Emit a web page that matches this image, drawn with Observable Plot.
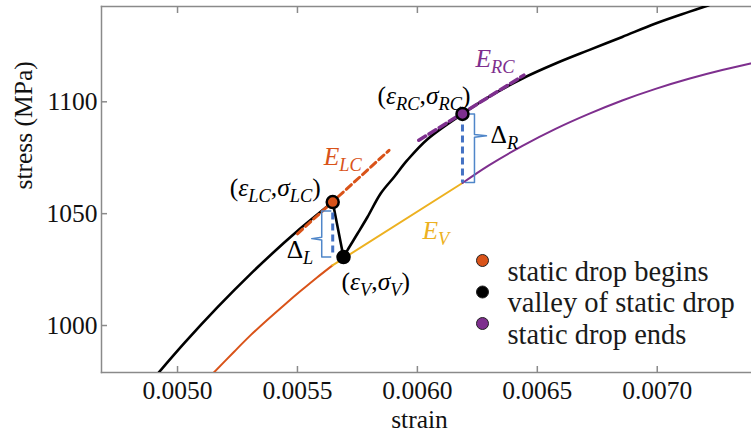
<!DOCTYPE html>
<html><head><meta charset="utf-8">
<script src="https://cdn.jsdelivr.net/npm/d3@7"></script>
<script src="https://cdn.jsdelivr.net/npm/@observablehq/plot@0.6"></script>
<style>
html,body{margin:0;padding:0;background:#fff;font-family:"Liberation Serif",serif;}
#chart svg{display:block;}
</style>
</head><body><div id="chart"></div>
<script>
// ---- data ----
const blackStrain = [0.004917, 0.005028, 0.005167, 0.005305, 0.005444, 0.005500, 0.005647, 0.005692, 0.005708, 0.005750, 0.005792, 0.005847, 0.005903, 0.005958, 0.006042, 0.006188, 0.006298, 0.006438, 0.006576, 0.006715, 0.006854, 0.006993, 0.007132, 0.007215];
const blackStress = [978.4, 992.1, 1008.2, 1023.1, 1037.0, 1042.3, 1055.2, 1030.6, 1033.6, 1041.0, 1048.5, 1059.0, 1066.4, 1073.9, 1083.3, 1094.6, 1102.2, 1110.4, 1117.1, 1123.1, 1129.0, 1135.0, 1140.2, 1143.2];

const beginStrain = [0.005146, 0.005236, 0.005305, 0.005375, 0.005444, 0.005514, 0.005583, 0.005646];
const beginStress = [978.4, 988.3, 995.7, 1002.6, 1009.1, 1015.5, 1021.6, 1026.9];

const valleyStrain = [0.005646, 0.006188];
const valleyStress = [1026.9, 1063.7];

const endStrain = [0.006188, 0.006298, 0.006438, 0.006576, 0.006715, 0.006854, 0.006993, 0.007132, 0.007271, 0.007389];
const endStress = [1063.7, 1071.6, 1080.3, 1087.9, 1094.6, 1100.6, 1105.8, 1110.3, 1114.2, 1117.1];

const eLCStrain = [0.005500, 0.005882];
const eLCStress = [1041.0, 1078.3];
const eRCStrain = [0.006006, 0.006444];
const eRCStress = [1082.8, 1111.9];

// key points: static drop begins, valley, static drop ends
const dotStrain = [0.005647, 0.005692, 0.006188];
const dotStress = [1055.2, 1030.6, 1094.6];
const dotNames = ["static drop begins", "valley of static drop", "static drop ends"];

// drop amplitudes (vertical dashed segments)
const deltaStrain = [0.005647, 0.006188];
const deltaTop = [1055.2, 1094.6];
const deltaBottom = [1031.3, 1063.7];

const xTicks = [0.0050, 0.0055, 0.0060, 0.0065, 0.0070];
const yTicks = [1000, 1050, 1100];

// ---- styles ----
const ORANGE = "#D95319", YELLOW = "#EDB120", PURPLE = "#7E2F8E", BLUE = "#4472C4", BRACE = "#4F86C9";
const dotFill = [ORANGE, "#000", PURPLE];
const FONT = "Liberation Serif";
const GRAY = "#8a8a8a";

const zip = (xs, ys) => xs.map((x, i) => ({x, y: ys[i]}));
const black = zip(blackStrain, blackStress);
const iBegin = blackStrain.indexOf(dotStrain[0]);
const iValley = blackStrain.indexOf(dotStrain[1]);
const blackA = black.slice(0, iBegin + 1);
const blackB = black.slice(iBegin, iValley + 1);
const blackC = black.slice(iValley);
const begin = zip(beginStrain, beginStress);
const valley = zip(valleyStrain, valleyStress);
const ends = zip(endStrain, endStress);
const eLC = zip(eLCStrain, eLCStress);
const eRC = zip(eRCStrain, eRCStress);
const dots = dotStrain.map((x, i) => ({x, y: dotStress[i], fill: dotFill[i], name: dotNames[i]}));
const deltas = deltaStrain.map((x, i) => ({x, y1: deltaTop[i], y2: deltaBottom[i]}));

// braces (pixel-ish offsets converted into strain units)
const PX = 0.0005 / 120;
function brace(x, top, bottom, dir, e, v, t, tipFrac) {
  const tip = bottom + tipFrac * (top - bottom);
  const xe = x + dir * e * PX, xv = x + dir * v * PX, xt = x + dir * t * PX;
  return [
    {x: xe, y: top}, {x: xv, y: top}, {x: xv, y: tip + 0.6}, {x: xt, y: tip},
    {x: xv, y: tip - 0.6}, {x: xv, y: bottom}, {x: xe, y: bottom}
  ];
}
const braceL = brace(deltaStrain[0], dotStress[0] - 4, dotStress[1], -1, 2, 11, 21, 0.4);
const braceR = brace(deltaStrain[1], deltaTop[1], deltaBottom[1] + 0.2, 1, 3, 12, 24, 0.68);

// annotation labels: [text, anchor dot index, textAnchor, dx, dy, color]
const labels = [
  ["(ε_{LC},σ_{LC})", 0, "end", -12, -14, "#000"],
  ["E_{LC}", 0, "start", -9, -45, ORANGE],
  ["Δ_{L}", 0, "start", -46, 48, "#000"],
  ["(ε_{V},σ_{V})", 1, "start", -2, 25, "#000"],
  ["E_{V}", 1, "start", 79, -26, YELLOW],
  ["(ε_{RC},σ_{RC})", 2, "end", 8, -18, "#000"],
  ["E_{RC}", 2, "start", 13, -55, PURPLE],
  ["Δ_{R}", 2, "start", 28, 21, "#000"]
];
const MATH_SIZE = 25.5;

const smooth = "catmull-rom";
const marks = [
  Plot.frame({anchor: "left", stroke: GRAY, strokeWidth: 1.5}),
  Plot.frame({anchor: "top", stroke: GRAY, strokeWidth: 1.5}),
  Plot.frame({anchor: "bottom", stroke: GRAY, strokeWidth: 1.5}),
  Plot.axisX({anchor: "bottom", ticks: xTicks, tickFormat: d3.format(".4f"), tickSize: -6, tickPadding: 14, stroke: GRAY, strokeWidth: 1.5, fontSize: 25.5, fill: "#111", label: null}),
  Plot.axisX({anchor: "top", ticks: xTicks, tickFormat: () => "", tickSize: -6, tickPadding: 0, stroke: GRAY, strokeWidth: 1.5, label: null}),
  Plot.axisY({anchor: "left", ticks: yTicks, tickFormat: d => String(d), tickSize: -6, tickPadding: 10, stroke: GRAY, strokeWidth: 1.5, fontSize: 25.5, fill: "#111", label: null}),
  Plot.text(["strain"], {frameAnchor: "bottom", dy: 55, dx: -7, fontSize: 25.5, fill: "#111"}),
  Plot.text(["stress (MPa)"], {frameAnchor: "left", dx: -78, rotate: -90, fontSize: 25.5, fill: "#111"}),

  Plot.line(begin, {x: "x", y: "y", stroke: ORANGE, strokeWidth: 2, curve: smooth, clip: true}),
  Plot.line(valley, {x: "x", y: "y", stroke: YELLOW, strokeWidth: 2, clip: true}),
  Plot.line(ends, {x: "x", y: "y", stroke: PURPLE, strokeWidth: 2, curve: smooth, clip: true}),
  Plot.line(blackA, {x: "x", y: "y", stroke: "#000", strokeWidth: 2.6, curve: smooth, clip: true}),
  Plot.line(blackB, {x: "x", y: "y", stroke: "#000", strokeWidth: 2.6, clip: true}),
  Plot.line(blackC, {x: "x", y: "y", stroke: "#000", strokeWidth: 2.6, curve: smooth, clip: true}),
  Plot.line(eLC, {x: "x", y: "y", stroke: ORANGE, strokeWidth: 3, strokeDasharray: "7,4"}),
  Plot.line(eRC, {x: "x", y: "y", stroke: PURPLE, strokeWidth: 3.5, strokeDasharray: "8,4"}),
  Plot.ruleX(deltas, {x: "x", y1: "y1", y2: "y2", stroke: BLUE, strokeWidth: 3, strokeDasharray: "7,4"}),
  Plot.line(braceL, {x: "x", y: "y", stroke: BRACE, strokeWidth: 1.5}),
  Plot.line(braceR, {x: "x", y: "y", stroke: BRACE, strokeWidth: 1.5}),
  Plot.dot(dots, {x: "x", y: "y", fill: "fill", stroke: "#000", strokeWidth: 2.5, r: 6})
];

for (const [txt, k, anchor, dx, dy, color] of labels) {
  marks.push(Plot.text([dots[k]], {x: "x", y: "y", text: () => txt, textAnchor: anchor, dx, dy, fill: color, fontSize: MATH_SIZE}));
}

// legend inside the frame
dots.forEach((d, i) => {
  marks.push(Plot.dot([d], {frameAnchor: "top-left", dx: 381, dy: 254 + i * 31.5, r: 6, fill: d.fill, stroke: "#222", strokeWidth: 1}));
  marks.push(Plot.text([d.name], {frameAnchor: "top-left", dx: 406, dy: 254 + i * 31.5, textAnchor: "start", fontSize: 28.5, fill: "#1a1a1a"}));
});

const chart = Plot.plot({
  width: 751,
  height: 441,
  marginLeft: 101,
  marginRight: 0,
  marginTop: 6,
  marginBottom: 69,
  style: {fontFamily: FONT, background: "#fff"},
  x: {domain: [0.004683, 0.007393], type: "linear"},
  y: {domain: [979, 1142.6], type: "linear"},
  marks
});
chart.setAttribute("font-family", FONT);

// render subscripts / italics for math labels
function mathify(el, str, size) {
  while (el.firstChild) el.removeChild(el.firstChild);
  const parts = str.match(/_\{[^}]*\}|[εσE]|[^_εσE]+/g);
  let low = false;
  for (const p of parts) {
    const t = document.createElementNS("http://www.w3.org/2000/svg", "tspan");
    if (p.startsWith("_{")) {
      t.textContent = p.slice(2, -1);
      t.setAttribute("font-size", size * 0.72);
      t.setAttribute("font-style", "italic");
      if (!low) { t.setAttribute("dy", size * 0.22); low = true; }
    } else {
      t.textContent = p;
      if (/[εσE]/.test(p)) t.setAttribute("font-style", "italic");
      if (low) { t.setAttribute("dy", -size * 0.22); low = false; }
    }
    el.appendChild(t);
  }
}
const labelSet = new Set(labels.map(l => l[0]));
chart.querySelectorAll("text").forEach(el => {
  el.setAttribute("font-family", FONT);
  const s = el.textContent;
  if (labelSet.has(s)) mathify(el, s, MATH_SIZE);
});

document.getElementById("chart").appendChild(chart);
</script>
</body></html>
